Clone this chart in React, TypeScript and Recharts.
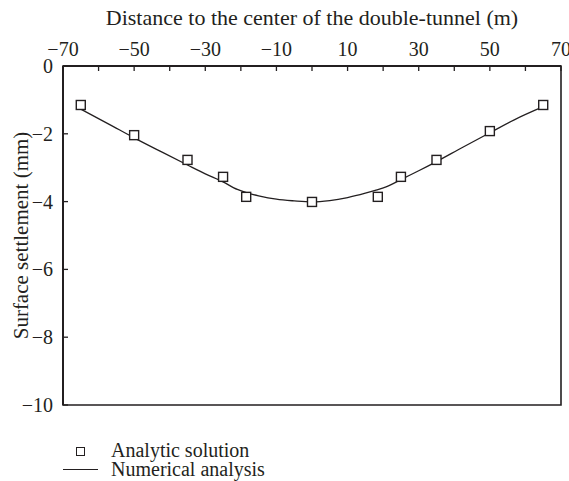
import React from "react";
import { ComposedChart, Line, Scatter, XAxis, YAxis, ReferenceArea } from "recharts";

const INK = "#231f20";
const FONT = "Liberation Serif, DejaVu Serif, serif";

// analytic solution (squares)
const ANALYTIC_X = [-65, -50, -35, -25, -18.5, 0, 18.5, 25, 35, 50, 65];
const ANALYTIC_Y = [-1.15, -2.04, -2.77, -3.27, -3.86, -4.01, -3.86, -3.27, -2.77, -1.92, -1.15];

// numerical analysis (line)
const NUMERICAL_X = [-65, -57, -50, -42, -35, -30, -25, -21, -18, -15, -10, -5, 0, 5, 10, 15, 18, 21, 25, 30, 35, 42, 50, 57, 65];
const NUMERICAL_Y = [
  -1.27, -1.72, -2.12, -2.55, -2.92, -3.18, -3.42, -3.64, -3.75, -3.83, -3.93, -3.98, -4.01,
  -3.97, -3.88, -3.75, -3.66, -3.56, -3.35, -3.09, -2.82, -2.42, -1.97, -1.58, -1.2,
];

const X_TICKS = [-70, -60, -50, -40, -30, -20, -10, 0, 10, 20, 30, 40, 50, 60, 70];
const X_TICK_LABELS = ["\u221270", "", "\u221250", "", "\u221230", "", "\u221210", "", "10", "", "30", "", "50", "", "70"];
const Y_TICKS = [0, -2, -4, -6, -8, -10];
const Y_TICK_LABELS = ["0", "\u22122", "\u22124", "\u22126", "\u22128", "\u221210"];

const analyticRows = ANALYTIC_X.map((x, i) => ({ x, y: ANALYTIC_Y[i] }));
const numericalRows = NUMERICAL_X.map((x, i) => ({ x, y: NUMERICAL_Y[i] }));

const XTick = (props: any) => {
  const { x, y, payload } = props;
  const label = X_TICK_LABELS[X_TICKS.indexOf(payload.value)];
  return (
    <g>
      <line x1={x} y1={y} x2={x} y2={y + 5} stroke={INK} strokeWidth={1.3} />
      {label ? (
        <text x={x} y={y - 10} textAnchor="middle" fill={INK} fontSize={20} style={{ fontFamily: FONT }}>
          {label}
        </text>
      ) : null}
    </g>
  );
};

const YTick = (props: any) => {
  const { x, y, payload } = props;
  const label = Y_TICK_LABELS[Y_TICKS.indexOf(payload.value)];
  return (
    <g>
      <line x1={x} y1={y} x2={x + 5} y2={y} stroke={INK} strokeWidth={1.3} />
      <text x={x - 10} y={y + 7} textAnchor="end" fill={INK} fontSize={20} style={{ fontFamily: FONT }}>
        {label}
      </text>
    </g>
  );
};

const SquareDot = (props: any) => {
  const { cx, cy } = props;
  if (cx == null || cy == null) return null;
  return <rect x={cx - 4.5} y={cy - 4.5} width={9} height={9} fill="#fff" stroke={INK} strokeWidth={1.4} />;
};

export default function App() {
  return (
    <div style={{ position: "absolute", left: 0, top: 0, width: 569, height: 481, background: "#fff", fontFamily: FONT }}>
      <ComposedChart width={569} height={481} margin={{ top: 36, right: 8, bottom: 76, left: 0 }} style={{ fontFamily: FONT }}>
        <XAxis
          xAxisId={0}
          orientation="top"
          type="number"
          dataKey="x"
          domain={[-70, 70]}
          ticks={X_TICKS}
          height={30}
          tickSize={0}
          tickMargin={0}
          tickLine={false}
          axisLine={{ stroke: INK, strokeWidth: 2 }}
          tick={<XTick />}
          interval={0}
          allowDataOverflow
        />
        <YAxis
          yAxisId={0}
          type="number"
          dataKey="y"
          domain={[-10, 0]}
          ticks={Y_TICKS}
          width={63}
          tickSize={0}
          tickMargin={0}
          tickLine={false}
          axisLine={{ stroke: INK, strokeWidth: 2 }}
          tick={<YTick />}
          interval={0}
          allowDataOverflow
          label={{
            content: (p: any) => {
              const vb = p.viewBox || { x: 0, y: 66, width: 63, height: 339 };
              const cx = 21;
              const cy = vb.y + vb.height / 2;
              return (
                <text
                  x={cx}
                  y={cy}
                  transform={`rotate(-90 ${cx} ${cy})`}
                  textAnchor="middle"
                  dominantBaseline="central"
                  fill={INK}
                  fontSize={21}
                  style={{ fontFamily: FONT }}
                >
                  Surface settlement (mm)
                </text>
              );
            },
          }}
        />
        <ReferenceArea x1={-70} x2={70} y1={-10} y2={0} fill="none" stroke={INK} strokeWidth={1.6} ifOverflow="visible" />
        <Line
          data={numericalRows}
          dataKey="y"
          type="monotone"
          stroke={INK}
          strokeWidth={1.3}
          dot={false}
          activeDot={false}
          isAnimationActive={false}
        />
        <Scatter data={analyticRows} dataKey="y" shape={<SquareDot />} isAnimationActive={false} />
      </ComposedChart>
      <div
        style={{
          position: "absolute",
          left: 0,
          top: 5,
          width: 624,
          textAlign: "center",
          fontSize: 22,
          color: INK,
          lineHeight: "26px",
        }}
      >
        Distance to the center of the double-tunnel (m)
      </div>
      <div style={{ position: "absolute", left: 0, top: 439, fontSize: 20, color: INK }}>
        <div style={{ position: "absolute", left: 75.5, top: 7.5, width: 9, height: 9, boxSizing: "border-box", border: `1.4px solid ${INK}` }} />
        <div style={{ position: "absolute", left: 111, top: 0, whiteSpace: "nowrap", lineHeight: "22px" }}>Analytic solution</div>
        <div style={{ position: "absolute", left: 63, top: 29.5, width: 35, height: 1.3, background: INK }} />
        <div style={{ position: "absolute", left: 111, top: 19, whiteSpace: "nowrap", lineHeight: "22px" }}>Numerical analysis</div>
      </div>
    </div>
  );
}
